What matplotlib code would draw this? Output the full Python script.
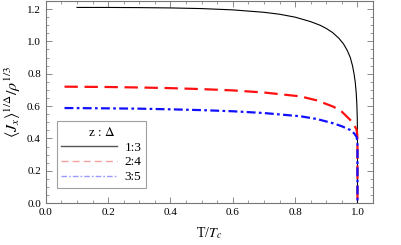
import matplotlib
matplotlib.use("Agg")
import matplotlib.pyplot as plt
from matplotlib.ticker import MultipleLocator
from matplotlib.lines import Line2D

plt.rcParams['font.family'] = ['Liberation Serif', 'DejaVu Serif']
plt.rcParams['mathtext.fontset'] = 'stix'

# z:Delta = 1:3
t_13 = [0.10, 0.20, 0.30, 0.40, 0.50, 0.60, 0.70, 0.75, 0.80, 0.85, 0.88, 0.90,
        0.92, 0.94, 0.955, 0.967, 0.977, 0.984, 0.989, 0.993, 0.996, 0.998,
        0.9993, 1.0, 1.0]
y_13 = [1.210, 1.210, 1.209, 1.207, 1.203, 1.195, 1.180, 1.168, 1.150, 1.122,
        1.100, 1.080, 1.055, 1.020, 0.985, 0.945, 0.900, 0.850, 0.800, 0.745,
        0.680, 0.610, 0.530, 0.40, 0.0]
# z:Delta = 2:4
t_24 = [0.06, 0.20, 0.30, 0.40, 0.50, 0.60, 0.70, 0.817, 0.87, 0.923, 0.95, 0.977,
        0.99, 0.997, 0.999, 1.0, 1.0]
y_24 = [0.720, 0.718, 0.715, 0.711, 0.705, 0.697, 0.684, 0.660, 0.635, 0.596, 0.565,
        0.514, 0.480, 0.455, 0.430, 0.38, 0.0]
# z:Delta = 3:5
t_35 = [0.06, 0.20, 0.30, 0.40, 0.50, 0.60, 0.70, 0.817, 0.87, 0.923, 0.95, 0.977,
        0.99, 0.997, 0.999, 1.0, 1.0]
y_35 = [0.588, 0.586, 0.584, 0.580, 0.575, 0.568, 0.557, 0.537, 0.520, 0.493, 0.475,
        0.452, 0.430, 0.410, 0.390, 0.36, 0.0]

labels = ['1:3', '2:4', '3:5']

fig = plt.figure(figsize=(4.02, 2.45), dpi=100)
ax = fig.add_axes([0.114, 0.171, 0.814, 0.825])

ax.plot(t_13, y_13, color='black', lw=0.8, ls='-')
ax.plot(t_24, y_24, color='#ff1010', lw=1.6, ls=(0, (6, 3)))
ax.plot(t_35, y_35, color='#1010ff', lw=1.6, ls=(0, (4, 1.5, 1.2, 1.5)))

ax.set_xlim(0, 1.05)
ax.set_ylim(0, 1.25)
ax.xaxis.set_major_locator(MultipleLocator(0.2))
ax.xaxis.set_minor_locator(MultipleLocator(0.05))
ax.yaxis.set_major_locator(MultipleLocator(0.2))
ax.yaxis.set_minor_locator(MultipleLocator(0.05))
ax.tick_params(which='both', direction='in', top=True, right=True,
               labelsize=8, color='#777777')
ax.tick_params(which='major', length=4, width=0.6)
ax.tick_params(which='minor', length=2, width=0.5)
for s in ax.spines.values():
    s.set_color('#777777')
    s.set_linewidth(0.8)

ax.set_xlabel('T/$T_c$', fontsize=10, labelpad=6)
ax.set_ylabel(r'$\langle J_x\rangle^{1/\Delta}/\rho^{1/3}$', fontsize=11.5, labelpad=3)

handles = [
    Line2D([], [], color='#555555', lw=1.0, ls='-'),
    Line2D([], [], color='#f5a0a0', lw=1.0, ls=(0, (5, 3))),
    Line2D([], [], color='#9a9aff', lw=1.0, ls=(0, (4, 1.5, 1.2, 1.5))),
]
leg = ax.legend(handles, labels, title='z : $\\Delta$', loc='lower left',
                bbox_to_anchor=(0.033, 0.075), fontsize=9.5, title_fontsize=9.5,
                frameon=True, fancybox=False, edgecolor='#888888',
                handlelength=4.2, borderpad=0.35, labelspacing=0.2,
                handletextpad=0.6, borderaxespad=0)
leg.get_frame().set_linewidth(0.8)

fig.savefig('out.png', dpi=100)
